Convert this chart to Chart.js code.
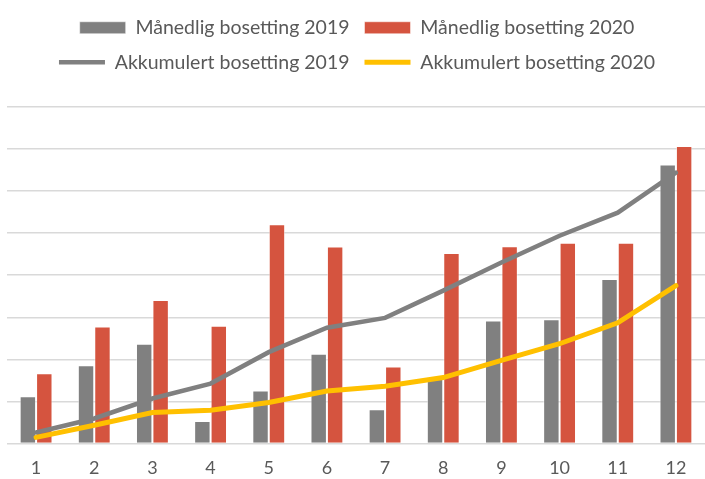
<!DOCTYPE html>
<html>
<head>
<meta charset="utf-8">
<script src="https://cdn.jsdelivr.net/npm/chart.js@4"></script>
<style>
  html, body { margin: 0; padding: 0; background: #fff; }
  #wrap { width: 705px; height: 479px; }
</style>
</head>
<body>
<div id="wrap"><canvas id="chart1"></canvas></div>
<script>
const months = ['1', '2', '3', '4', '5', '6', '7', '8', '9', '10', '11', '12'];
const monthly2019 = [112, 186, 237, 53, 126, 213, 81, 154, 292, 295, 391, 663];
const monthly2020 = [167, 278, 341, 280, 521, 468, 183, 453, 469, 477, 477, 707];
const cumulative2019 = [104, 237, 427, 569, 868, 1100, 1194, 1453, 1721, 1975, 2195, 2575];
const cumulative2020 = [57, 173, 294, 316, 389, 499, 543, 626, 790, 948, 1147, 1500];

const textColor = '#595959';
const fontFamily = 'Lato, "Open Sans", sans-serif';

// extra space under the legend
const legendGap = {
  id: 'legendGap',
  beforeInit(chart) {
    const fit = chart.legend.fit;
    chart.legend.fit = function () {
      fit.bind(chart.legend)();
      this.height += 25;
    };
  },
};

const ctx = document.getElementById('chart1').getContext('2d');
const myChart = new Chart(ctx, {
  type: 'bar',
  data: {
    labels: months,
    datasets: [
      {
        label: 'Månedlig bosetting 2019',
        data: monthly2019,
        backgroundColor: '#808080',
        borderColor: 'rgba(255,255,255,0.5)',
        borderWidth: 1,
        pointStyle: 'rect',
        order: 2,
      },
      {
        label: 'Månedlig bosetting 2020',
        data: monthly2020,
        backgroundColor: '#d5543f',
        borderColor: 'rgba(255,255,255,0.5)',
        borderWidth: 1,
        pointStyle: 'rect',
        order: 2,
      },
      {
        type: 'line',
        label: 'Akkumulert bosetting 2019',
        data: cumulative2019,
        yAxisID: 'y1',
        borderColor: '#808080',
        backgroundColor: '#808080',
        borderWidth: 4.5,
        borderCapStyle: 'round',
        pointRadius: 0,
        pointStyle: 'line',
        tension: 0,
        order: 1,
      },
      {
        type: 'line',
        label: 'Akkumulert bosetting 2020',
        data: cumulative2020,
        yAxisID: 'y1',
        borderColor: '#ffc000',
        backgroundColor: '#ffc000',
        borderWidth: 5,
        borderCapStyle: 'round',
        pointRadius: 0,
        pointStyle: 'line',
        tension: 0,
        order: 0,
      },
    ],
  },
  options: {
    responsive: true,
    maintainAspectRatio: false,
    animation: false,
    layout: { padding: { top: 3, left: 7, right: -2, bottom: -14 } },
    datasets: {
      bar: { barPercentage: 1, categoryPercentage: 0.565 },
    },
    plugins: {
      tooltip: { enabled: false },
      legend: {
        position: 'top',
        labels: {
          usePointStyle: true,
          pointStyleWidth: 46,
          boxHeight: 12,
          padding: 15,
          color: textColor,
          font: { family: fontFamily, size: 19.5 },
          sort: (a, b) => a.datasetIndex - b.datasetIndex,
        },
      },
    },
    scales: {
      x: {
        grid: { display: false, drawTicks: false },
        border: { display: false },
        ticks: { color: textColor, font: { family: fontFamily, size: 18 }, padding: 14 },
      },
      y: {
        min: 0,
        max: 800,
        ticks: { display: false, stepSize: 100 },
        grid: { color: '#d9d9d9', lineWidth: 1.5, drawTicks: false },
        border: { display: false },
      },
      y1: {
        display: false,
        min: 0,
        max: 3200,
      },
    },
  },
  plugins: [legendGap],
});
</script>
</body>
</html>
